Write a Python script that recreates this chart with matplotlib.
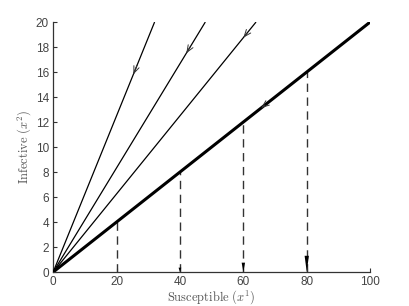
import numpy as np
import matplotlib
matplotlib.use("Agg")
import matplotlib.pyplot as plt

plt.rcParams['mathtext.fontset'] = 'cm'
plt.rcParams['font.family'] = ['Liberation Sans', 'DejaVu Sans']

# trajectories through the origin: x value where each reaches y = 20
traj_x_end = [32, 48, 64, 100]
traj_y_end = [20, 20, 20, 20]
traj_width = [0.9, 0.9, 0.9, 2.2]
# where the direction arrows sit on each trajectory (x value)
arrow_x = [25.9, 42.6, 60.6, 66.2]

# vertical dashed drops from the thick line
drop_x = [20, 40, 60, 80]
drop_y = [4, 8, 12, 16]
drop_head = [0.0, 0.35, 0.75, 1.3]   # arrowhead length in y units

xticks = [0, 20, 40, 60, 80, 100]
yticks = list(range(0, 21, 2))

fig = plt.figure(figsize=(4.09, 3.06), dpi=100)
ax = fig.add_axes([0.130, 0.111, 0.775, 0.817])

for xe, ye, lw, xa in zip(traj_x_end, traj_y_end, traj_width, arrow_x):
    ax.plot([0, xe], [0, ye], color='black', lw=lw, solid_capstyle='butt', zorder=3)
    s = ye / xe
    ax.annotate('', xy=(xa - 0.6, s * (xa - 0.6)), xytext=(xa + 0.6, s * (xa + 0.6)),
                arrowprops=dict(arrowstyle='->,head_length=0.5,head_width=0.2',
                                color='#333333', lw=0.7, shrinkA=0, shrinkB=0),
                zorder=4)

for xd, yd, hd in zip(drop_x, drop_y, drop_head):
    ax.plot([xd, xd], [0, yd], color='#333333', lw=1.0, dashes=(6, 4), zorder=2)
    if hd > 0:
        w = 0.35 + 0.25 * hd
        ax.fill([xd - w, xd + w, xd], [hd, hd, 0], color='black', lw=0, zorder=3)

ax.set_xlim(0, 100)
ax.set_ylim(0, 20)
ax.set_xticks(xticks)
ax.set_yticks(yticks)
ax.spines['top'].set_visible(False)
ax.spines['right'].set_visible(False)
for sp in ax.spines.values():
    sp.set_linewidth(0.9)
    sp.set_color('#333333')
ax.tick_params(direction='in', length=3, width=0.8, colors='#333333',
               labelsize=8.5, labelcolor='#444444', pad=3)
ax.set_xlabel(r'$\mathrm{Susceptible}\ (x^1)$', fontsize=9, color='#555555', labelpad=0)
ax.set_ylabel(r'$\mathrm{Infective}\ (x^2)$', fontsize=9, color='#555555', labelpad=2)

fig.savefig('out.png', dpi=100)
